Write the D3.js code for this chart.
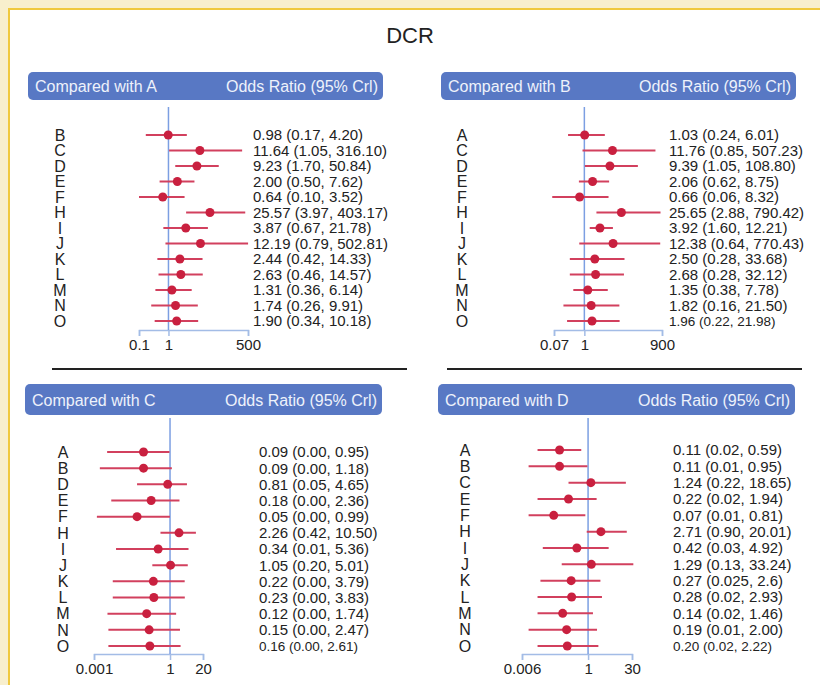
<!DOCTYPE html>
<html>
<head>
<meta charset="utf-8"/>
<script src="https://d3js.org/d3.v7.min.js"></script>
<style>
body { margin: 0; background: #fff; }
text { font-family: "Liberation Sans", Arial, sans-serif; }
.hdr { fill: #5878c4; }
.hdrtxt { fill: #eef2fb; font-size: 16px; }
.ci { stroke: #d2405e; stroke-width: 2px; }
.dot { fill: #c9203f; }
.refline { stroke: #7c9fe2; stroke-width: 1.5px; }
.axis path, .axis line { stroke: #a3bce6; stroke-width: 1.5px; }
.axis text { font-size: 15px; fill: #222; }
.lbl { font-size: 16px; fill: #222; }
.val { font-size: 15px; fill: #222; }
.sep { stroke: #222; stroke-width: 2px; }
</style>
</head>
<body>
<script>

// ---- data ----
var catsA = ["B","C","D","E","F","H","I","J","K","L","M","N","O"];
var orA = [0.98, 11.64, 9.23, 2.00, 0.64, 25.57, 3.87, 12.19, 2.44, 2.63, 1.31, 1.74, 1.90];
var loA = [0.17, 1.05, 1.70, 0.50, 0.10, 3.97, 0.67, 0.79, 0.42, 0.46, 0.36, 0.26, 0.34];
var hiA = [4.20, 316.10, 50.84, 7.62, 3.52, 403.17, 21.78, 502.81, 14.33, 14.57, 6.14, 9.91, 10.18];
var txtA = ["0.98 (0.17, 4.20)", "11.64 (1.05, 316.10)", "9.23 (1.70, 50.84)", "2.00 (0.50, 7.62)",
  "0.64 (0.10, 3.52)", "25.57 (3.97, 403.17)", "3.87 (0.67, 21.78)", "12.19 (0.79, 502.81)",
  "2.44 (0.42, 14.33)", "2.63 (0.46, 14.57)", "1.31 (0.36, 6.14)", "1.74 (0.26, 9.91)", "1.90 (0.34, 10.18)"];
var ticksA = [0.1, 1, 500];
var tickLabelsA = ["0.1", "1", "500"];

var catsB = ["A","C","D","E","F","H","I","J","K","L","M","N","O"];
var orB = [1.03, 11.76, 9.39, 2.06, 0.66, 25.65, 3.92, 12.38, 2.50, 2.68, 1.35, 1.82, 1.96];
var loB = [0.24, 0.85, 1.05, 0.62, 0.06, 2.88, 1.60, 0.64, 0.28, 0.28, 0.38, 0.16, 0.22];
var hiB = [6.01, 507.23, 108.80, 8.75, 8.32, 790.42, 12.21, 770.43, 33.68, 32.12, 7.78, 21.50, 21.98];
var txtB = ["1.03 (0.24, 6.01)", "11.76 (0.85, 507.23)", "9.39 (1.05, 108.80)", "2.06 (0.62, 8.75)",
  "0.66 (0.06, 8.32)", "25.65 (2.88, 790.42)", "3.92 (1.60, 12.21)", "12.38 (0.64, 770.43)",
  "2.50 (0.28, 33.68)", "2.68 (0.28, 32.12)", "1.35 (0.38, 7.78)", "1.82 (0.16, 21.50)", "1.96 (0.22, 21.98)"];
var ticksB = [0.07, 1, 900];
var tickLabelsB = ["0.07", "1", "900"];

var catsC = ["A","B","D","E","F","H","I","J","K","L","M","N","O"];
var orC = [0.09, 0.09, 0.81, 0.18, 0.05, 2.26, 0.34, 1.05, 0.22, 0.23, 0.12, 0.15, 0.16];
var loC = [0.0033, 0.0017, 0.05, 0.0048, 0.0013, 0.42, 0.0074, 0.20, 0.0055, 0.0055, 0.0034, 0.0037, 0.0037];
var hiC = [0.95, 1.18, 4.65, 2.36, 0.99, 10.50, 5.36, 5.01, 3.79, 3.83, 1.74, 2.47, 2.61];
var txtC = ["0.09 (0.00, 0.95)", "0.09 (0.00, 1.18)", "0.81 (0.05, 4.65)", "0.18 (0.00, 2.36)",
  "0.05 (0.00, 0.99)", "2.26 (0.42, 10.50)", "0.34 (0.01, 5.36)", "1.05 (0.20, 5.01)",
  "0.22 (0.00, 3.79)", "0.23 (0.00, 3.83)", "0.12 (0.00, 1.74)", "0.15 (0.00, 2.47)", "0.16 (0.00, 2.61)"];
var ticksC = [0.001, 1, 20];
var tickLabelsC = ["0.001", "1", "20"];

var catsD = ["A","B","C","E","F","H","I","J","K","L","M","N","O"];
var orD = [0.11, 0.11, 1.24, 0.22, 0.07, 2.71, 0.42, 1.29, 0.27, 0.28, 0.14, 0.19, 0.20];
var loD = [0.02, 0.01, 0.22, 0.02, 0.01, 0.90, 0.03, 0.13, 0.025, 0.02, 0.02, 0.01, 0.02];
var hiD = [0.59, 0.95, 18.65, 1.94, 0.81, 20.01, 4.92, 33.24, 2.6, 2.93, 1.46, 2.00, 2.22];
var txtD = ["0.11 (0.02, 0.59)", "0.11 (0.01, 0.95)", "1.24 (0.22, 18.65)", "0.22 (0.02, 1.94)",
  "0.07 (0.01, 0.81)", "2.71 (0.90, 20.01)", "0.42 (0.03, 4.92)", "1.29 (0.13, 33.24)",
  "0.27 (0.025, 2.6)", "0.28 (0.02, 2.93)", "0.14 (0.02, 1.46)", "0.19 (0.01, 2.00)", "0.20 (0.02, 2.22)"];
var ticksD = [0.006, 1, 30];
var tickLabelsD = ["0.006", "1", "30"];

var width = 820, height = 685;

var svg = d3.select("body").append("svg")
    .attr("width", width)
    .attr("height", height);

// page frame
svg.append("rect").attr("width", width).attr("height", height).attr("fill", "#f8efcd");
svg.append("rect").attr("x", 9).attr("y", 9).attr("width", width - 9).attr("height", height - 9).attr("fill", "#fff");
svg.append("path").attr("d", "M9," + height + "V9H" + width)
    .attr("fill", "none").attr("stroke", "#f0c93e").attr("stroke-width", 2);

svg.append("text")
    .attr("x", 410).attr("y", 43)
    .attr("text-anchor", "middle")
    .attr("font-size", 22)
    .attr("fill", "#222")
    .text("DCR");

// separators between the two rows of panels
svg.append("line").attr("class", "sep").attr("x1", 52).attr("x2", 407).attr("y1", 369).attr("y2", 369);
svg.append("line").attr("class", "sep").attr("x1", 447).attr("x2", 802).attr("y1", 369).attr("y2", 369);

function drawPanel(p)
{
  var g = svg.append("g");

  g.append("rect").attr("class", "hdr")
      .attr("x", p.hx).attr("y", p.hy)
      .attr("width", p.hw).attr("height", p.hh)
      .attr("rx", 5);
  g.append("text").attr("class", "hdrtxt")
      .attr("x", p.hx + 7).attr("y", p.hy + p.hh / 2 + 6)
      .text("Compared with " + p.ref);
  g.append("text").attr("class", "hdrtxt")
      .attr("x", p.hx + p.hw - 5).attr("y", p.hy + p.hh / 2 + 6)
      .attr("text-anchor", "end")
      .text("Odds Ratio (95% Crl)");

  var x = d3.scaleLog().domain(p.domain).range(p.xr);
  var y = d3.scalePoint().domain(p.cats).range(p.yr);

  var axis = g.append("g").attr("class", "axis")
      .attr("transform", "translate(0," + p.axisY + ")")
      .call(d3.axisBottom(x)
        .tickValues(p.ticks)
        .tickFormat(function(d, i) { return p.tickLabels[i]; })
        .tickSize(6)
        .tickPadding(3));
  axis.attr("font-family", null).attr("font-size", null);

  g.append("line").attr("class", "refline")
      .attr("x1", x(1)).attr("x2", x(1))
      .attr("y1", p.refTop).attr("y2", p.axisY);

  var rows = g.selectAll(".row")
      .data(p.cats)
      .enter().append("g")
      .attr("class", "row")
      .attr("transform", function(d) { return "translate(0," + y(d) + ")"; });

  rows.append("line").attr("class", "ci")
      .attr("x1", function(d, i) { return x(p.lo[i]); })
      .attr("x2", function(d, i) { return x(p.hi[i]); });

  rows.append("circle").attr("class", "dot")
      .attr("cx", function(d, i) { return x(p.or[i]); })
      .attr("r", 4.5);

  rows.append("text").attr("class", "lbl")
      .attr("x", p.lblX)
      .attr("dy", "0.36em")
      .attr("text-anchor", "middle")
      .text(function(d) { return d; });

  rows.append("text").attr("class", "val")
      .attr("x", p.valX)
      .attr("dy", "0.36em")
      .style("font-size", function(d, i) { return (p.lastSmall && i == p.cats.length - 1) ? "13.5px" : null; })
      .text(function(d, i) { return p.txt[i]; });
}

drawPanel({ref: "A", cats: catsA, or: orA, lo: loA, hi: hiA, txt: txtA, ticks: ticksA, tickLabels: tickLabelsA,
  hx: 28, hy: 72, hw: 355, hh: 28, domain: [0.1, 500], xr: [139, 248], yr: [135, 321],
  axisY: 330, refTop: 107, lblX: 60, valX: 253, lastSmall: false});

drawPanel({ref: "B", cats: catsB, or: orB, lo: loB, hi: hiB, txt: txtB, ticks: ticksB, tickLabels: tickLabelsB,
  hx: 441, hy: 72, hw: 355, hh: 28, domain: [0.07, 900], xr: [554, 662], yr: [135, 321],
  axisY: 330, refTop: 107, lblX: 462, valX: 669, lastSmall: true});

drawPanel({ref: "C", cats: catsC, or: orC, lo: loC, hi: hiC, txt: txtC, ticks: ticksC, tickLabels: tickLabelsC,
  hx: 25, hy: 384, hw: 357, hh: 31, domain: [0.001, 20], xr: [94, 203], yr: [452, 646],
  axisY: 654, refTop: 418, lblX: 63, valX: 259, lastSmall: true});

drawPanel({ref: "D", cats: catsD, or: orD, lo: loD, hi: hiD, txt: txtD, ticks: ticksD, tickLabels: tickLabelsD,
  hx: 438, hy: 384, hw: 357, hh: 31, domain: [0.006, 30], xr: [522, 632], yr: [450, 646],
  axisY: 654, refTop: 418, lblX: 465, valX: 673, lastSmall: true});

</script>
</body>
</html>
